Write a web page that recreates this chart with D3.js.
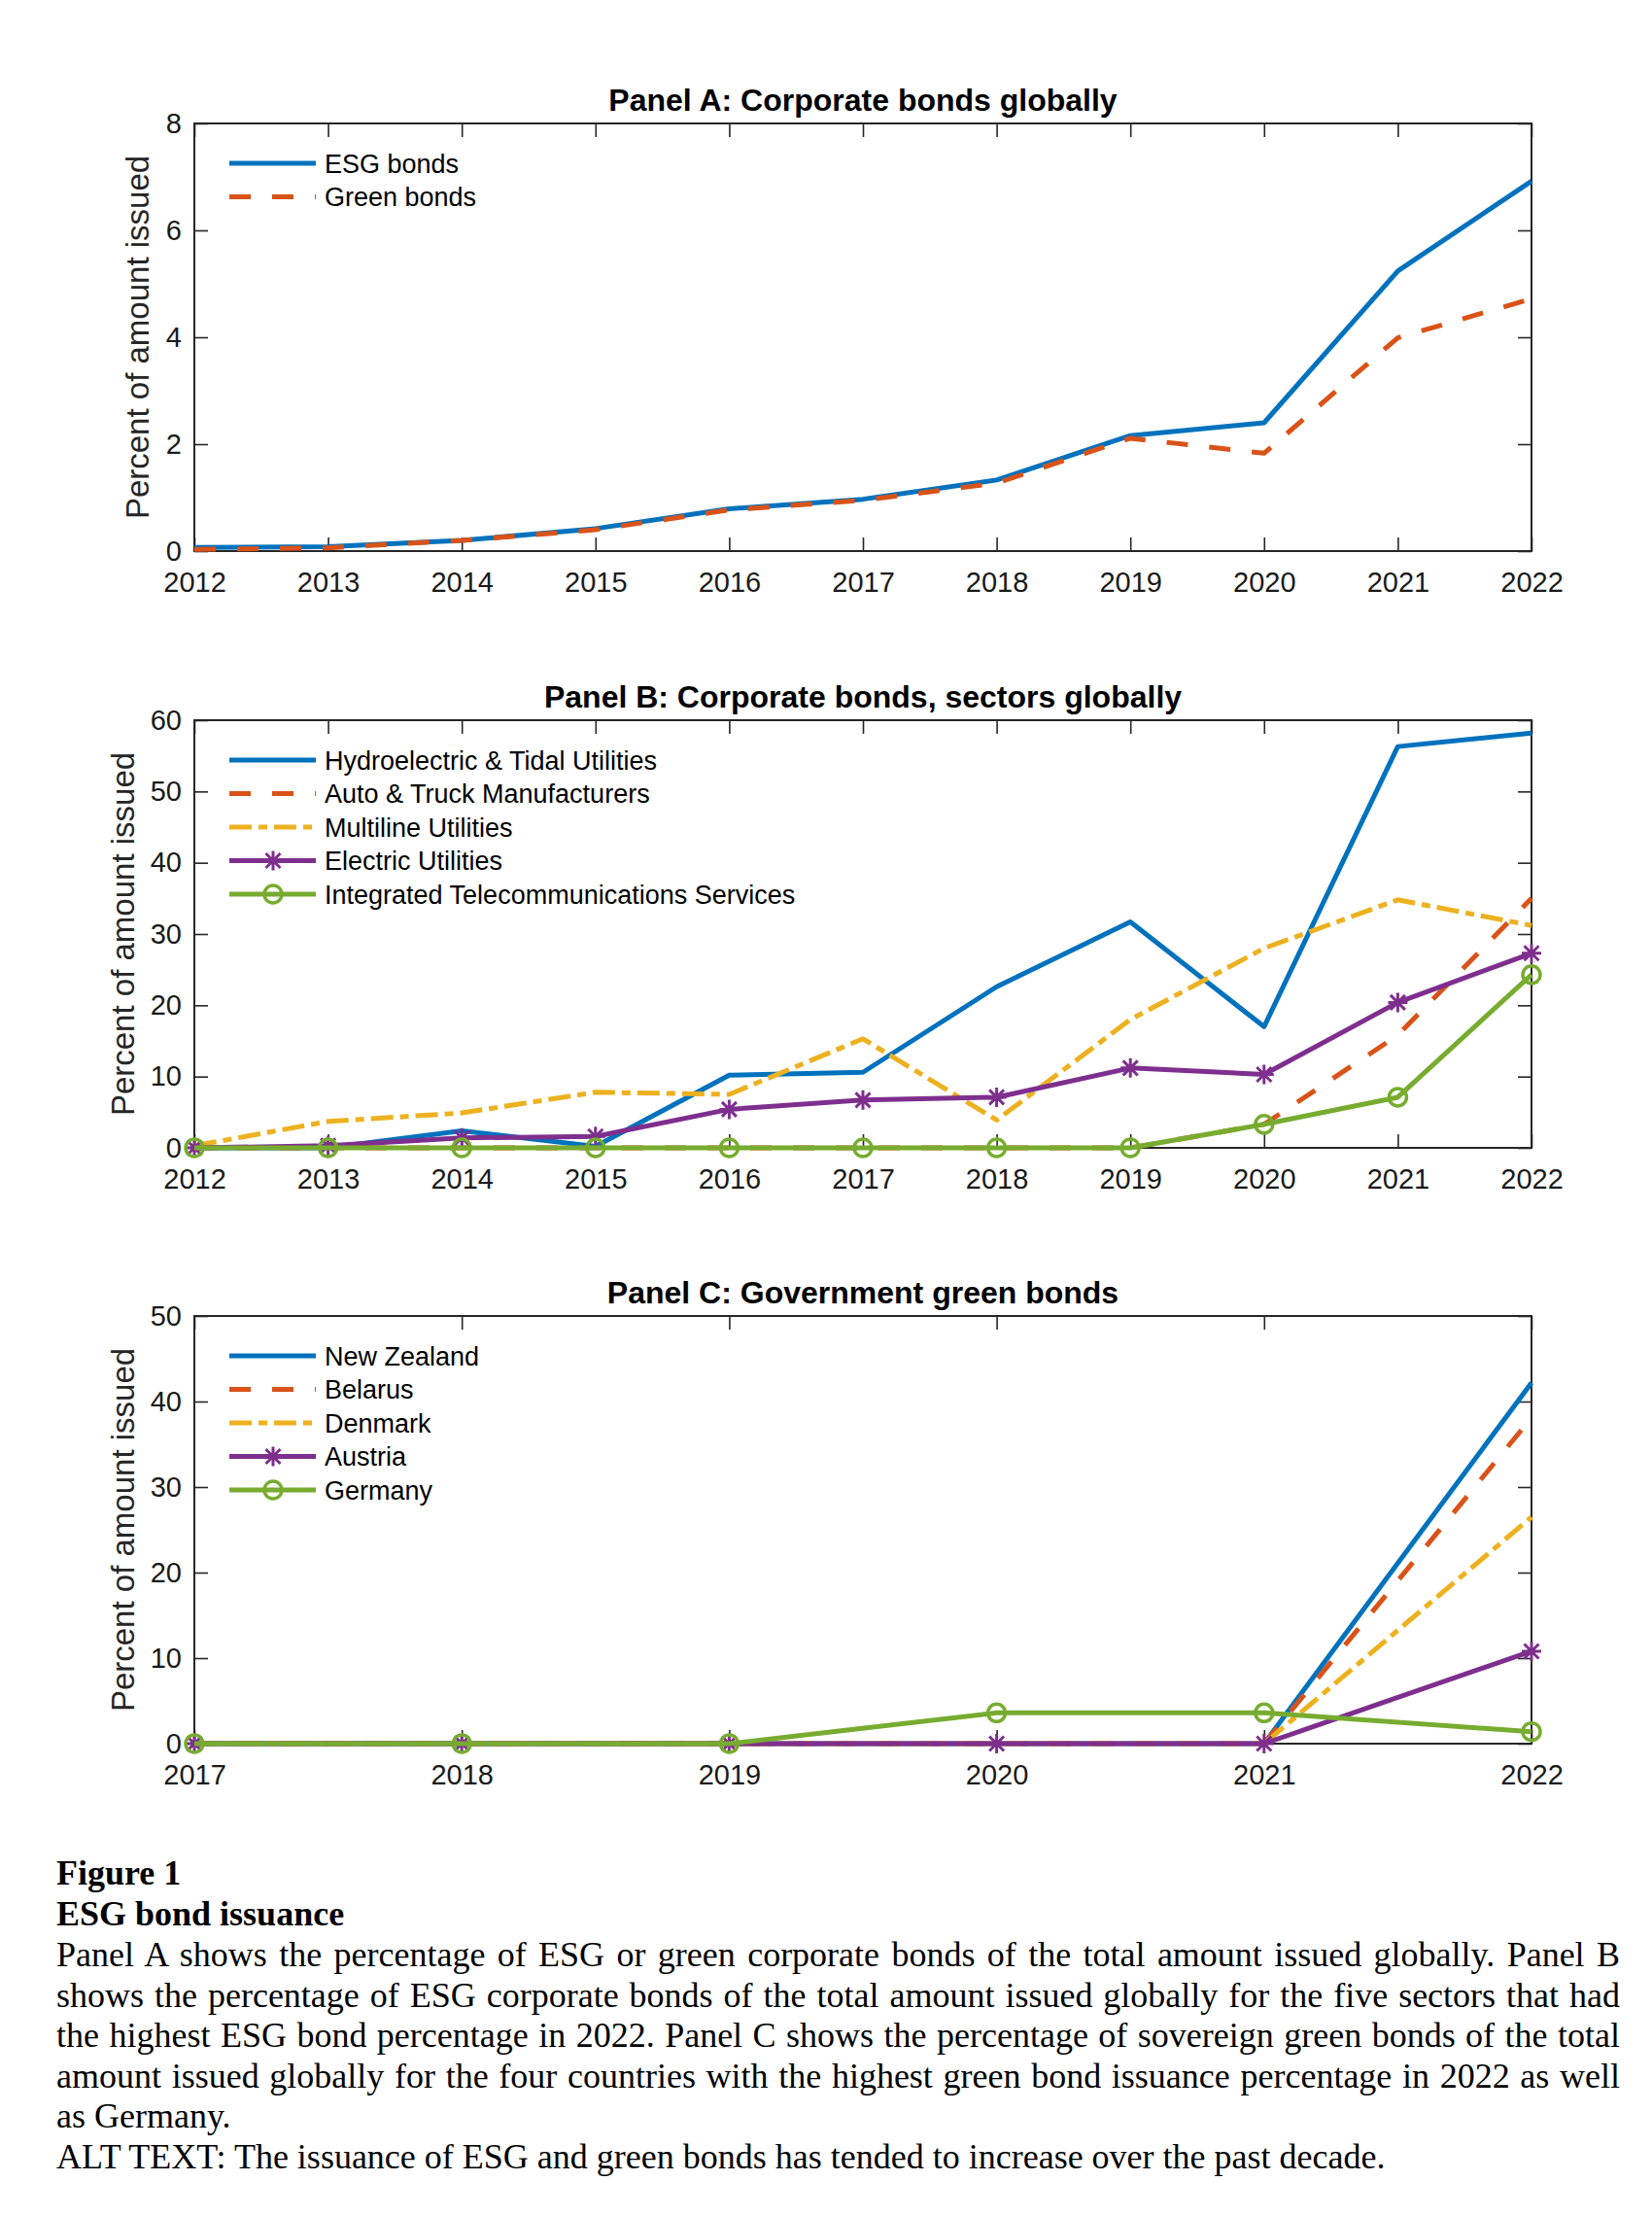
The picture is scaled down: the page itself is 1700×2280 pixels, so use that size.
<!DOCTYPE html>
<html>
<head>
<meta charset="utf-8">
<script src="https://cdn.jsdelivr.net/npm/d3@7"></script>
<style>
  body { margin: 0; background: #fff; }
  svg text { font-family: "Liberation Sans", Arial, Helvetica, sans-serif; }
  svg text.caption { font-family: "Liberation Serif", "Times New Roman", serif; }
</style>
</head>
<body>
<svg id="fig" width="1700" height="2280"></svg>
<script>
// values

// Panel A
const yearsA = [2012, 2013, 2014, 2015, 2016, 2017, 2018, 2019, 2020, 2021, 2022];
const esgBonds   = [0.07, 0.08, 0.20, 0.42, 0.79, 0.97, 1.33, 2.16, 2.40, 5.24, 6.92];
const greenBonds = [0.03, 0.06, 0.20, 0.40, 0.77, 0.95, 1.27, 2.11, 1.83, 3.99, 4.72];
const yTicksA = [0, 2, 4, 6, 8];

// Panel B
const yearsB = [2012, 2013, 2014, 2015, 2016, 2017, 2018, 2019, 2020, 2021, 2022];
const hydroTidal   = [0, 0, 2.4, 0.2, 10.2, 10.6, 22.6, 31.7, 17.0, 56.3, 58.2];
const autoTruck    = [0, 0, 0, 0, 0, 0, 0, 0, 3.3, 15.8, 35.0];
const multiline    = [0.3, 3.7, 4.9, 7.8, 7.5, 15.3, 3.9, 18.0, 28.0, 34.8, 31.2];
const electricUtil = [0, 0.3, 1.4, 1.6, 5.4, 6.7, 7.1, 11.2, 10.3, 20.4, 27.3];
const telecomServ  = [0, 0, 0, 0, 0, 0, 0, 0, 3.3, 7.1, 24.3];
const yTicksB = [0, 10, 20, 30, 40, 50, 60];

// Panel C
const yearsC = [2017, 2018, 2019, 2020, 2021, 2022];
const newZealand = [0, 0, 0, 0, 0, 42.2];
const belarus    = [0, 0, 0, 0, 0, 38.1];
const denmark    = [0, 0, 0, 0, 0, 26.5];
const austria    = [0, 0, 0, 0, 0, 10.8];
const germany    = [0, 0, 0, 3.6, 3.6, 1.4];
const yTicksC = [0, 10, 20, 30, 40, 50];

const captionLines = [
  "Panel A shows the percentage of ESG or green corporate bonds of the total amount issued globally. Panel B",
  "shows the percentage of ESG corporate bonds of the total amount issued globally for the five sectors that had",
  "the highest ESG bond percentage in 2022. Panel C shows the percentage of sovereign green bonds of the total",
  "amount issued globally for the four countries with the highest green bond issuance percentage in 2022 as well",
  "as Germany.",
  "ALT TEXT: The issuance of ESG and green bonds has tended to increase over the past decade."
];

// matlab default colours
const cBlue = "#0072BD", cRed = "#D95319", cYellow = "#EDB120", cPurple = "#7E2F8E", cGreen = "#77AC30";
const solid = null, dashed = "22,22", dashDot = "23,7,9,7";

const svg = d3.select("#fig");
const left = 200, right = 1576, plotH = 440;

const panels = [
  {
    top: 127, title: "Panel A: Corporate bonds globally", years: yearsA, yTicks: yTicksA, labelX: 153,
    series: [
      {name: "ESG bonds", values: esgBonds, color: cBlue, dash: solid},
      {name: "Green bonds", values: greenBonds, color: cRed, dash: dashed}
    ]
  },
  {
    top: 741, title: "Panel B: Corporate bonds, sectors globally", years: yearsB, yTicks: yTicksB, labelX: 138,
    series: [
      {name: "Hydroelectric & Tidal Utilities", values: hydroTidal, color: cBlue, dash: solid},
      {name: "Auto & Truck Manufacturers", values: autoTruck, color: cRed, dash: dashed},
      {name: "Multiline Utilities", values: multiline, color: cYellow, dash: dashDot},
      {name: "Electric Utilities", values: electricUtil, color: cPurple, dash: solid, marker: "star"},
      {name: "Integrated Telecommunications Services", values: telecomServ, color: cGreen, dash: solid, marker: "circle"}
    ]
  },
  {
    top: 1354, title: "Panel C: Government green bonds", years: yearsC, yTicks: yTicksC, labelX: 138,
    series: [
      {name: "New Zealand", values: newZealand, color: cBlue, dash: solid},
      {name: "Belarus", values: belarus, color: cRed, dash: dashed},
      {name: "Denmark", values: denmark, color: cYellow, dash: dashDot},
      {name: "Austria", values: austria, color: cPurple, dash: solid, marker: "star"},
      {name: "Germany", values: germany, color: cGreen, dash: solid, marker: "circle"}
    ]
  }
];

function drawMarker(g, kind, cx, cy, color) {
  if (kind === "circle") {
    g.append("circle").attr("cx", cx).attr("cy", cy).attr("r", 9)
      .attr("fill", "none").attr("stroke", color).attr("stroke-width", 3.5);
  } else if (kind === "star") {
    const r = 10, d = r * 0.75;
    const p = "M" + cx + "," + (cy - r) + "V" + (cy + r) +
      "M" + (cx - d) + "," + (cy - d) + "L" + (cx + d) + "," + (cy + d) +
      "M" + (cx - d) + "," + (cy + d) + "L" + (cx + d) + "," + (cy - d) +
      "M" + (cx - r) + "," + cy + "H" + (cx + r);
    g.append("path").attr("d", p).attr("fill", "none").attr("stroke", color).attr("stroke-width", 3);
  }
}

function drawPanel(p) {
  const g = svg.append("g");
  const bottom = p.top + plotH;
  const x = d3.scaleLinear().domain(d3.extent(p.years)).range([left, right]);
  const y = d3.scaleLinear().domain([0, d3.max(p.yTicks)]).range([bottom, p.top]);

  const tickStyle = function(sel) {
    sel.select(".domain").remove();
    sel.selectAll(".tick line").attr("stroke", "#262626").attr("stroke-width", 1.6);
    sel.selectAll(".tick text").attr("fill", "#1a1a1a").style("font-size", "29px");
  };

  g.append("g").attr("transform", "translate(0," + bottom + ")")
    .call(d3.axisBottom(x).tickValues(p.years).tickFormat(d3.format("d")).tickSize(-14).tickPadding(21))
    .call(tickStyle);
  g.append("g").attr("transform", "translate(0," + p.top + ")")
    .call(d3.axisTop(x).tickValues(p.years).tickFormat("").tickSize(-14))
    .call(tickStyle);
  g.append("g").attr("transform", "translate(" + left + ",0)")
    .call(d3.axisLeft(y).tickValues(p.yTicks).tickSize(-14).tickPadding(13))
    .call(tickStyle);
  g.append("g").attr("transform", "translate(" + right + ",0)")
    .call(d3.axisRight(y).tickValues(p.yTicks).tickFormat("").tickSize(-14))
    .call(tickStyle);
  g.selectAll("g").attr("font-family", null);

  g.append("rect").attr("x", left).attr("y", p.top).attr("width", right - left).attr("height", plotH)
    .attr("fill", "none").attr("stroke", "#262626").attr("stroke-width", 2);

  const line = d3.line().x(function(d) { return x(d[0]); }).y(function(d) { return y(d[1]); });

  p.series.forEach(function(s) {
    const pts = p.years.map(function(yr, i) { return [yr, s.values[i]]; });
    g.append("path").attr("d", line(pts)).attr("fill", "none")
      .attr("stroke", s.color).attr("stroke-width", 5)
      .attr("stroke-dasharray", s.dash).attr("stroke-linejoin", "round");
    if (s.marker) {
      pts.forEach(function(d) { drawMarker(g, s.marker, x(d[0]), y(d[1]), s.color); });
    }
  });

  // legend
  p.series.forEach(function(s, i) {
    const ly = p.top + 41 + i * 34.5;
    g.append("line").attr("x1", 236).attr("x2", 325).attr("y1", ly).attr("y2", ly)
      .attr("stroke", s.color).attr("stroke-width", 5).attr("stroke-dasharray", s.dash);
    if (s.marker) drawMarker(g, s.marker, 281, ly, s.color);
    g.append("text").attr("x", 334).attr("y", ly).attr("dy", "0.36em")
      .style("font-size", "27px").attr("fill", "#000").text(s.name);
  });

  g.append("text").attr("x", (left + right) / 2).attr("y", p.top - 13)
    .attr("text-anchor", "middle").style("font-size", "32px").style("font-weight", "bold")
    .attr("fill", "#000").text(p.title);

  g.append("text")
    .attr("transform", "translate(" + p.labelX + "," + (p.top + plotH / 2) + ")rotate(-90)")
    .attr("text-anchor", "middle").style("font-size", "33px").attr("fill", "#262626")
    .text("Percent of amount issued");
}

panels.forEach(drawPanel);

// caption
const capLeft = 58, capRight = 1667, capSize = 36;
const cap = svg.append("g");
cap.append("text").attr("class", "caption").attr("x", capLeft).attr("y", 1939)
  .style("font-size", capSize + "px").style("font-weight", "bold").text("Figure 1");
cap.append("text").attr("class", "caption").attr("x", capLeft).attr("y", 1981)
  .style("font-size", capSize + "px").style("font-weight", "bold").text("ESG bond issuance");

captionLines.forEach(function(t, i) {
  const txt = cap.append("text").attr("class", "caption").attr("x", capLeft).attr("y", 2023 + i * 41.5)
    .style("font-size", capSize + "px").attr("fill", "#000").text(t);
  // justify the full lines by widening (or narrowing) the word gaps
  if (i < 4) {
    const w = txt.node().getComputedTextLength();
    const gaps = t.split(" ").length - 1;
    txt.attr("word-spacing", ((capRight - capLeft - w) / gaps) + "px");
  }
});
</script>
</body>
</html>
